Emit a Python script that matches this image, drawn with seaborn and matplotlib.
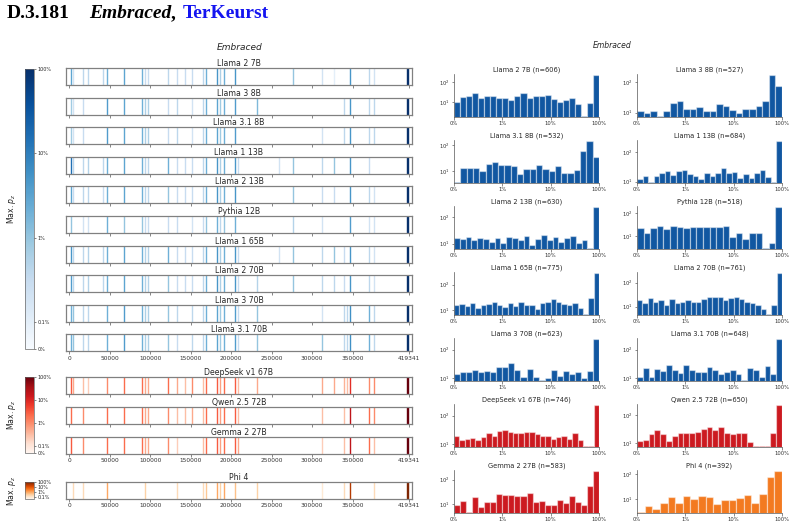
import matplotlib
matplotlib.use("Agg")
import matplotlib.pyplot as plt
import matplotlib.colors as mcolors
import matplotlib.ticker as mticker
import seaborn as sns

W, H = 797, 528

# ---- strip (document position) data ----
doc_len = 419341
strip_ticks = [0, 50000, 100000, 150000, 200000, 250000, 300000, 350000, 419341]
positions = [1500, 4000, 17000, 23000, 42000, 47000, 67000, 90000, 94000, 97000,
             122000, 133000, 143000, 152000, 165000, 169000, 182000, 186000, 191000, 205000,
             209000, 232000, 259000, 277000, 312000, 327000, 340000, 343000, 347000, 370000,
             377000, 417600, 418800]

# max p_z at each position, one list per model (0 = nothing)
llama2_7b_strip = [0.03, 0.002, 0.004, 0.004, 0.004, 0.02, 0.03, 0.02, 0.003, 0.003,
                   0.004, 0.003, 0.003, 0.003, 0.004, 0.02, 0.05, 0.006, 0.02, 0.05,
                   0, 0, 0, 0.01, 0.002, 0.001, 0, 0, 0.05, 0.004,
                   0.002, 1.0, 1.0]
llama3_8b_strip = [0.008, 0.002, 0.003, 0, 0, 0.04, 0.03, 0.02, 0.006, 0.006,
                   0.003, 0.004, 0, 0.002, 0.004, 0.02, 0.03, 0.008, 0.02, 0.04,
                   0, 0.015, 0, 0, 0, 0, 0.004, 0, 0.05, 0.004,
                   0.004, 1.0, 1.0]
llama31_8b_strip = [0.008, 0.002, 0.003, 0, 0, 0.04, 0.03, 0.02, 0.006, 0.006,
                    0.003, 0.004, 0, 0.002, 0.004, 0.02, 0.03, 0.008, 0.02, 0.04,
                    0, 0, 0, 0, 0.002, 0, 0.004, 0, 0.05, 0.004,
                    0.004, 1.0, 1.0]
llama1_13b_strip = [0.15, 0.004, 0.004, 0.005, 0.004, 0.02, 0.03, 0.02, 0.004, 0.004,
                    0.02, 0.003, 0.003, 0.003, 0.004, 0.02, 0.05, 0.006, 0.02, 0.05,
                    0.003, 0, 0.002, 0.01, 0.004, 0.01, 0, 0, 0.05, 0.003,
                    0, 1.0, 1.0]
llama2_13b_strip = [0.03, 0.003, 0.004, 0.004, 0.003, 0.02, 0.03, 0.02, 0.004, 0.004,
                    0.01, 0.003, 0.003, 0.003, 0.004, 0.02, 0.05, 0.006, 0.02, 0.05,
                    0, 0, 0, 0.01, 0.003, 0.003, 0, 0, 0.05, 0.004,
                    0.002, 1.0, 1.0]
pythia_12b_strip = [0.01, 0, 0.002, 0.002, 0, 0.02, 0.01, 0.01, 0.003, 0.003,
                    0.003, 0.003, 0, 0.002, 0.003, 0.01, 0.02, 0.004, 0.01, 0.02,
                    0, 0, 0, 0.005, 0.002, 0, 0, 0, 0.04, 0.002,
                    0.002, 1.0, 1.0]
llama1_65b_strip = [0.05, 0.004, 0.004, 0.005, 0.004, 0.02, 0.03, 0.02, 0.005, 0.005,
                    0.02, 0.003, 0.003, 0.003, 0.004, 0.02, 0.05, 0.006, 0.02, 0.05,
                    0.003, 0, 0.002, 0.01, 0.004, 0.01, 0.003, 0, 0.05, 0.004,
                    0.002, 1.0, 1.0]
llama2_70b_strip = [0.04, 0.004, 0.004, 0.005, 0.004, 0.02, 0.03, 0.02, 0.005, 0.005,
                    0.01, 0.003, 0.003, 0.003, 0.004, 0.02, 0.05, 0.006, 0.02, 0.05,
                    0.003, 0.005, 0, 0.01, 0.004, 0.004, 0.003, 0, 0.05, 0.004,
                    0.002, 1.0, 1.0]
llama3_70b_strip = [0.02, 0.01, 0.004, 0.004, 0, 0.02, 0.04, 0.02, 0.006, 0.006,
                    0.01, 0.004, 0, 0.004, 0.004, 0.02, 0.03, 0.008, 0.02, 0.04,
                    0.003, 0.01, 0, 0, 0.002, 0, 0.004, 0.004, 0.06, 0.02,
                    0.004, 1.0, 1.0]
llama31_70b_strip = [0.02, 0.01, 0.004, 0.004, 0, 0.02, 0.04, 0.02, 0.006, 0.006,
                     0.01, 0.003, 0, 0.004, 0.004, 0.02, 0.03, 0.008, 0.02, 0.04,
                     0.003, 0.01, 0, 0, 0.01, 0, 0.004, 0.004, 0.06, 0.02,
                     0.004, 1.0, 1.0]
deepseek_67b_strip = [0.03, 0.005, 0.003, 0.002, 0, 0.01, 0.02, 0.02, 0.005, 0.005,
                      0.02, 0.005, 0.003, 0.01, 0.003, 0.02, 0.03, 0.006, 0.02, 0.03,
                      0.003, 0.005, 0, 0, 0.005, 0.005, 0.004, 0.003, 0.08, 0.01,
                      0.01, 1.0, 1.0]
qwen25_72b_strip = [0.02, 0, 0.01, 0, 0, 0.02, 0.02, 0.02, 0.005, 0.005,
                    0.01, 0.003, 0.003, 0.005, 0.003, 0.02, 0.03, 0.006, 0.02, 0.03,
                    0.003, 0, 0, 0, 0.003, 0, 0.003, 0, 0.2, 0.02,
                    0.01, 1.0, 1.0]
gemma2_27b_strip = [0.03, 0, 0.01, 0, 0, 0.02, 0.02, 0.02, 0.005, 0.005,
                    0.01, 0.002, 0, 0, 0.003, 0.02, 0.03, 0.006, 0.02, 0.03,
                    0.005, 0, 0, 0, 0.002, 0, 0.003, 0, 0.2, 0.02,
                    0.003, 1.0, 1.0]
phi4_strip = [0, 0.002, 0.002, 0, 0, 0.01, 0, 0, 0.003, 0,
              0, 0.002, 0, 0, 0.002, 0.004, 0.01, 0.003, 0.01, 0.005,
              0, 0.003, 0, 0, 0.001, 0, 0.002, 0, 0.3, 0,
              0.002, 1.0, 1.0]

# ---- histogram counts (log-spaced bins from 0.1% to 100%) ----
llama2_7b_hist = [10, 18, 21, 29, 16, 19, 19, 16, 16, 12, 19, 27, 16, 19, 19, 23, 14, 10, 12, 16, 8, 2, 9, 236]
llama3_8b_hist = [11, 10, 11, 8, 11, 21, 24, 13, 13, 15, 11, 11, 19, 16, 12, 10, 13, 13, 17, 24, 180, 79]
llama31_8b_hist = [4, 14, 14, 14, 10, 19, 22, 17, 17, 16, 8, 12, 12, 17, 12, 10, 16, 9, 9, 11, 60, 150, 35]
llama1_13b_hist = [12, 16, 10, 16, 20, 22, 17, 22, 24, 18, 15, 12, 20, 16, 19, 28, 19, 21, 13, 18, 13, 20, 24, 14, 10, 245]
llama2_13b_hist = [17, 15, 18, 14, 17, 15, 12, 17, 11, 18, 16, 14, 19, 9, 15, 21, 14, 18, 12, 16, 19, 11, 14, 7, 250]
pythia_12b_hist = [22, 13, 22, 28, 21, 27, 25, 23, 26, 26, 25, 24, 24, 27, 9, 14, 7, 14, 13, 3, 5, 195]
llama1_65b_hist = [16, 17, 14, 18, 12, 15, 17, 20, 16, 13, 19, 14, 21, 16, 15, 11, 18, 20, 26, 20, 17, 16, 18, 12, 7, 30, 300]
llama2_70b_hist = [18, 14, 22, 16, 18, 12, 20, 14, 16, 18, 16, 15, 20, 25, 25, 25, 18, 22, 25, 20, 16, 14, 12, 8, 5, 12, 260]
llama3_70b_hist = [14, 17, 16, 20, 16, 18, 16, 25, 25, 33, 19, 11, 21, 11, 9, 10, 20, 12, 18, 14, 16, 10, 18, 240]
llama31_70b_hist = [11, 23, 11, 21, 18, 28, 20, 15, 29, 20, 17, 16, 25, 19, 14, 16, 19, 14, 9, 23, 19, 11, 26, 14, 240]
deepseek_67b_hist = [20, 14, 15, 17, 14, 18, 25, 20, 30, 31, 27, 24, 25, 27, 26, 22, 19, 19, 15, 18, 19, 15, 24, 14, 9, 9, 240]
qwen25_72b_hist = [12, 13, 21, 30, 21, 12, 18, 23, 22, 22, 25, 32, 39, 30, 37, 22, 21, 23, 22, 11, 8, 8, 8, 22, 240]
gemma2_27b_hist = [9, 14, 5, 20, 8, 12, 12, 26, 23, 23, 22, 22, 30, 12, 14, 9, 9, 15, 11, 22, 12, 9, 56, 230]
phi4_hist = [3, 5, 4, 7, 12, 7, 13, 10, 13, 12, 6, 9, 9, 11, 14, 7, 16, 75, 138]

hist_n = [606, 527, 532, 684, 630, 518, 775, 761, 623, 648, 746, 650, 583, 392]

model_names = ["Llama 2 7B", "Llama 3 8B", "Llama 3.1 8B", "Llama 1 13B", "Llama 2 13B",
               "Pythia 12B", "Llama 1 65B", "Llama 2 70B", "Llama 3 70B", "Llama 3.1 70B",
               "DeepSeek v1 67B", "Qwen 2.5 72B", "Gemma 2 27B", "Phi 4"]
strips = [llama2_7b_strip, llama3_8b_strip, llama31_8b_strip, llama1_13b_strip, llama2_13b_strip,
          pythia_12b_strip, llama1_65b_strip, llama2_70b_strip, llama3_70b_strip, llama31_70b_strip,
          deepseek_67b_strip, qwen25_72b_strip, gemma2_27b_strip, phi4_strip]
hists = [llama2_7b_hist, llama3_8b_hist, llama31_8b_hist, llama1_13b_hist, llama2_13b_hist,
         pythia_12b_hist, llama1_65b_hist, llama2_70b_hist, llama3_70b_hist, llama31_70b_hist,
         deepseek_67b_hist, qwen25_72b_hist, gemma2_27b_hist, phi4_hist]
families = ["blue"] * 10 + ["red"] * 3 + ["orange"]

cmaps = {"blue": plt.get_cmap("Blues"), "red": plt.get_cmap("Reds"), "orange": plt.get_cmap("Oranges")}
bar_colors = {"blue": "#1157a1", "red": "#cc1a20", "orange": "#f37a20"}
norm = mcolors.SymLogNorm(linthresh=1e-3, linscale=0.29, vmin=0, vmax=1, base=10)

sns.set_style("ticks")
plt.rcParams["font.family"] = ["DejaVu Sans"]
plt.rcParams["text.color"] = "#262626"

fig = plt.figure(figsize=(W / 100, H / 100), dpi=100)


def px_axes(x0, y0, x1, y1):
    return fig.add_axes([x0 / W, 1 - y1 / H, (x1 - x0) / W, (y1 - y0) / H])


# Title
renderer = fig.canvas.get_renderer()
fig.text(7 / W, 1 - 14 / H, "D.3.181", family="Liberation Serif", weight="bold",
         fontsize=14, va="center", color="black")
t2 = fig.text(89 / W, 1 - 14 / H, "Embraced", family="Liberation Serif", weight="bold",
              style="italic", fontsize=14, va="center", color="black")
bb = t2.get_window_extent(renderer)
t3 = fig.text(bb.x1 / W, 1 - 14 / H, ", ", family="Liberation Serif", weight="bold",
              fontsize=14, va="center", color="black")
bb = t3.get_window_extent(renderer)
fig.text(bb.x1 / W + 2 / W, 1 - 14 / H, "TerKeurst", family="Liberation Serif", weight="bold",
         fontsize=14, va="center", color="#1414f0")

fig.text(240 / W, 1 - 48 / H, "Embraced", style="italic", fontsize=6.5, ha="center", va="center")
fig.text(612 / W, 1 - 46 / H, "Embraced", style="italic", fontsize=5.5, ha="center", va="center")

# Strip tops in pixels
strip_tops = [68 + 29.6 * i for i in range(10)] + [377, 407, 437, 482]
label_rows = {9, 12, 13}

for i, (name, vals, fam) in enumerate(zip(model_names, strips, families)):
    top = strip_tops[i]
    ax = px_axes(66, top, 412, top + 17)
    xs = [p for p, v in zip(positions, vals) if v > 0]
    vs = [v for v in vals if v > 0]
    ax.vlines(xs, 0, 1, colors=cmaps[fam](norm(vs)), linewidth=1.0)
    ax.set_xlim(-0.01 * doc_len, 1.01 * doc_len)
    ax.set_ylim(0, 1)
    ax.set_yticks([])
    ax.set_xticks(strip_ticks)
    if i in label_rows:
        ax.set_xticklabels([str(t) for t in strip_ticks], fontsize=4.2, color="#333333")
    else:
        ax.set_xticklabels([])
    ax.tick_params(axis="x", length=2, width=0.5, pad=1, color="#555555")
    for s in ax.spines.values():
        s.set_color("#808080")
        s.set_linewidth(0.9)
    ax.set_title(name, fontsize=5.6, pad=1.5, color="#262626")

# Colorbars
cbar_specs = [("blue", 69, 349, 209), ("red", 377, 453, 415), ("orange", 482, 499, 491)]
for fam, y0, y1, ymid in cbar_specs:
    cax = px_axes(25, y0, 34, y1)
    sm = plt.cm.ScalarMappable(norm=norm, cmap=cmaps[fam])
    cb = fig.colorbar(sm, cax=cax)
    if fam == "orange":
        cb.set_ticks([1e-3, 1e-2, 1e-1, 1])
        cb.set_ticklabels(["0.1%", "1%", "10%", "100%"])
    else:
        cb.set_ticks([0, 1e-3, 1e-2, 1e-1, 1])
        cb.set_ticklabels(["0%", "0.1%", "1%", "10%", "100%"])
    cb.ax.minorticks_off()
    cb.ax.tick_params(labelsize=3.5, length=1.5, width=0.4, pad=1)
    cb.outline.set_linewidth(0.5)
    cb.outline.set_edgecolor("#666666")
    fig.text(12 / W, 1 - ymid / H, "Max. $p_z$", rotation=90, fontsize=5.6,
             ha="center", va="center")

# Histograms
col_x = [(454, 599), (637, 782)]
for i, (name, counts, n, fam) in enumerate(zip(model_names, hists, hist_n, families)):
    r, c = divmod(i, 2)
    top = 74 + 66 * r
    x0, x1 = col_x[c]
    ax = px_axes(x0, top, x1, top + 43)
    k = len(counts)
    width = 3.0 / k
    centers = [-3 + width * (j + 0.5) for j in range(k)]
    sns.histplot(x=centers, weights=counts, bins=k, binrange=(-3, 0), ax=ax,
                 color=bar_colors[fam], alpha=1, edgecolor=(1, 1, 1, 0.45), linewidth=0.9)
    ax.set_yscale("log")
    pos_counts = [v for v in counts if v > 0]
    ax.set_ylim(min(pos_counts) / 1.12, max(counts) * 1.06)
    ax.set_xlim(-3, 0)
    ax.set_xticks([-3, -2, -1, 0])
    ax.set_xticklabels(["0%", "1%", "10%", "100%"])
    ax.yaxis.set_major_locator(mticker.LogLocator(base=10, numticks=5))
    ax.yaxis.set_minor_locator(mticker.NullLocator())
    ax.set_ylabel("")
    ax.set_xlabel("")
    ax.tick_params(labelsize=3.8, length=1.8, width=0.4, pad=1, colors="#333333")
    sns.despine(ax=ax)
    for s in ax.spines.values():
        s.set_linewidth(0.5)
        s.set_color("#555555")
    ax.set_title(f"{name} (n={n})", fontsize=4.8, pad=2, color="#262626")

fig.savefig("out.png", dpi=100)
